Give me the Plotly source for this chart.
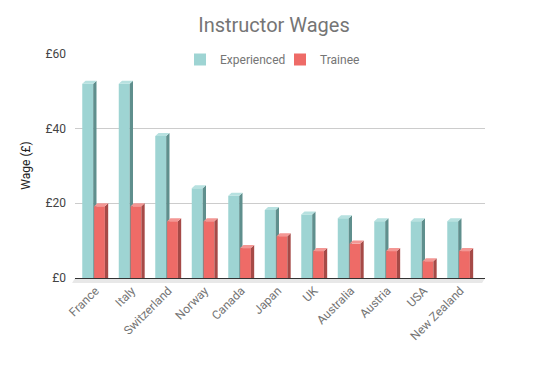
import numpy as np
import plotly.graph_objects as go

categories = ["France", "Italy", "Switzerland", "Norway", "Canada", "Japan",
              "UK", "Australia", "Austria", "USA", "New Zealand"]
experienced = [52, 52, 38, 24, 22, 18.2, 17, 16, 15.2, 15.2, 15.2]
trainee = [19.2, 19.2, 15.2, 15.2, 8, 11.2, 7.2, 9.2, 7.2, 4.5, 7.2]
y_tickvals = [0, 20, 40, 60]
y_ticktext = ["£0", "£20", "£40", "£60"]

pos = np.arange(len(categories))
DX, DY = 0.09, 0.8  # 3D depth in data units


def side_poly(vals, off, w):
    xs, ys = [], []
    for i, v in zip(pos, vals):
        x1 = i + off + w
        xs += [x1, x1 + DX, x1 + DX, x1, x1, None]
        ys += [0, 0, v + DY, v, 0, None]
    return xs, ys


def top_poly(vals, off, w):
    xs, ys = [], []
    for i, v in zip(pos, vals):
        x0 = i + off
        x1 = x0 + w
        xs += [x0, x0 + DX, x1 + DX, x1, x0, None]
        ys += [v, v + DY, v + DY, v, v, None]
    return xs, ys


series = [
    ("Experienced", experienced, -0.36, 0.30, "#9ed4d3", "#5f8f8d", "#b7e1e0", "y"),
    ("Trainee", trainee, -0.035, 0.295, "#ee6b67", "#a64a47", "#f49794", "y2"),
]

fig = go.Figure()
for name, vals, off, w, c_front, c_side, c_top, yax in series:
    fig.add_trace(go.Bar(x=pos, y=vals, offset=off, width=w, name=name,
                         marker=dict(color=c_front, line=dict(width=0)),
                         yaxis=yax, hoverinfo="x+y"))
    sx, sy = side_poly(vals, off, w)
    fig.add_trace(go.Scatter(x=sx, y=sy, mode="none", fill="toself",
                             fillcolor=c_side, showlegend=False, yaxis=yax,
                             hoverinfo="skip"))
    tx, ty = top_poly(vals, off, w)
    fig.add_trace(go.Scatter(x=tx, y=ty, mode="none", fill="toself",
                             fillcolor=c_top, showlegend=False, yaxis=yax,
                             hoverinfo="skip"))

fig.add_shape(type="path", xref="paper", yref="paper",
              path="M 0,0 L 1,0 L 0.993,-0.022 L -0.007,-0.022 Z",
              fillcolor="#e8e8e8", line=dict(width=0), layer="below")

# the page body adds an 8px offset, so the figure is 8px smaller
W, H = 539, 361
fig.update_layout(
    width=W, height=H,
    margin=dict(l=67, r=62, t=45, b=91, autoexpand=False),
    paper_bgcolor="white", plot_bgcolor="white",
    font=dict(family="Roboto", size=12, color="#757575"),
    title=dict(text="Instructor Wages", x=266 / W, xanchor="center",
               y=1 - 17 / H, yanchor="middle",
               font=dict(family="Roboto", size=20, color="#757575")),
    barmode="overlay",
    showlegend=True,
    legend=dict(orientation="h", x=172 / W, xanchor="left", xref="container",
                y=1 - 37 / H, yanchor="top", yref="container",
                bgcolor="rgba(0,0,0,0)", entrywidth=55, entrywidthmode="pixels",
                font=dict(family="Roboto", size=12, color="#757575"),
                traceorder="normal"),
    xaxis=dict(range=[-0.559, 10.674], tickvals=pos, ticktext=categories,
               tickangle=-45, showgrid=False, showline=True,
               linecolor="#333333", linewidth=1, ticks="", zeroline=False,
               automargin=False,
               tickfont=dict(family="Roboto", size=12, color="#757575")),
    yaxis=dict(range=[0, 60.2], tickvals=y_tickvals, ticktext=y_ticktext,
               showgrid=True, gridcolor="#cccccc", gridwidth=1,
               zeroline=False, showline=False, ticks="",
               ticklabelstandoff=8, automargin=False,
               tickfont=dict(family="Roboto", size=12, color="#444444"),
               title=dict(text="Wage (£)", standoff=12,
                          font=dict(family="Roboto", size=12, color="#222222"))),
    yaxis2=dict(overlaying="y", matches="y", visible=False),
)

fig.write_html("out.html")
